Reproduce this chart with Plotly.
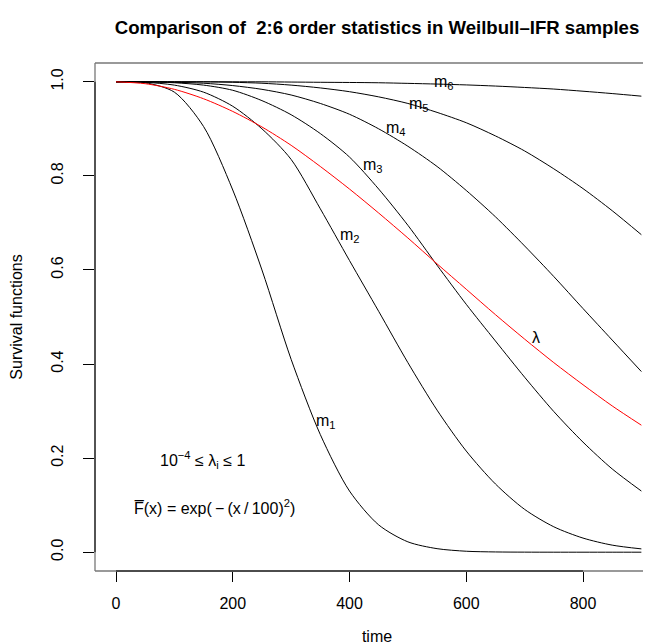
import plotly.graph_objects as go

# ---- data ----
time = [0, 50, 100, 150, 200, 250, 300, 350, 400, 450, 500, 550, 600, 650, 700, 750, 800, 850, 900]

m1 = [1.0, 0.998, 0.978, 0.905, 0.77, 0.60, 0.41, 0.25, 0.13, 0.058, 0.022, 0.0075, 0.002, 0.0005, 0.0001, 0.0, 0.0, 0.0, 0.0]
m2 = [1.0, 0.999, 0.993, 0.978, 0.948, 0.90, 0.835, 0.73, 0.62, 0.512, 0.403, 0.302, 0.215, 0.145, 0.091, 0.054, 0.030, 0.015, 0.007]
m3 = [1.0, 1.0, 0.998, 0.993, 0.982, 0.96, 0.93, 0.89, 0.84, 0.772, 0.695, 0.61, 0.527, 0.449, 0.372, 0.299, 0.234, 0.177, 0.130]
m4 = [1.0, 1.0, 0.999, 0.997, 0.992, 0.984, 0.972, 0.954, 0.931, 0.90, 0.863, 0.82, 0.769, 0.713, 0.651, 0.586, 0.518, 0.451, 0.384]
m5 = [1.0, 1.0, 1.0, 1.0, 0.999, 0.997, 0.993, 0.987, 0.979, 0.968, 0.954, 0.935, 0.913, 0.885, 0.853, 0.815, 0.773, 0.726, 0.675]
m6 = [1.0, 1.0, 1.0, 1.0, 1.0, 1.0, 0.9995, 0.999, 0.9986, 0.998, 0.9967, 0.9952, 0.9934, 0.991, 0.988, 0.9846, 0.980, 0.975, 0.9695]
lam = [1.0, 0.996, 0.984, 0.964, 0.937, 0.904, 0.865, 0.820, 0.772, 0.721, 0.668, 0.613, 0.559, 0.505, 0.453, 0.403, 0.356, 0.311, 0.270]

curve_labels = ["m<sub>1</sub>", "m<sub>2</sub>", "m<sub>3</sub>", "m<sub>4</sub>", "m<sub>5</sub>", "m<sub>6</sub>", "λ"]
label_x = [360, 400, 440, 480, 519, 562, 720]
label_y = [0.277, 0.673, 0.822, 0.900, 0.951, 0.999, 0.457]

x_ticks = [0, 200, 400, 600, 800]
y_ticks = [0.0, 0.2, 0.4, 0.6, 0.8, 1.0]
y_tick_text = ["0.0", "0.2", "0.4", "0.6", "0.8", "1.0"]

FONT = "Liberation Sans, Arial, Helvetica, sans-serif"

fig = go.Figure()
for vals in [m1, m2, m3, m4, m5, m6]:
    fig.add_trace(go.Scatter(x=time, y=vals, mode="lines",
                             line=dict(color="black", width=1, shape="spline", smoothing=0.8),
                             showlegend=False, hoverinfo="skip"))
fig.add_trace(go.Scatter(x=time, y=lam, mode="lines",
                         line=dict(color="#ff0000", width=1, shape="spline", smoothing=0.8),
                         showlegend=False, hoverinfo="skip"))

annotations = []
for t, xx, yy in zip(curve_labels, label_x, label_y):
    annotations.append(dict(x=xx, y=yy, xref="x", yref="y", text=t, showarrow=False,
                            font=dict(family=FONT, size=16, color="black"),
                            xanchor="center", yanchor="middle"))
annotations.append(dict(x=148.6, y=0.196, xref="x", yref="y",
                        text="10<sup>−4</sup> ≤ λ<sub>i</sub> ≤ 1", showarrow=False,
                        font=dict(family=FONT, size=16, color="black"),
                        xanchor="center", yanchor="middle"))
annotations.append(dict(x=168.7, y=0.0957, xref="x", yref="y",
                        text="F\u0305(x) = exp(\u2009−\u2009(x\u2009/\u2009100)<sup>2</sup>)", showarrow=False,
                        font=dict(family=FONT, size=16, color="black"),
                        xanchor="center", yanchor="middle"))

shapes = [
    # plot box (the right side falls outside the picture)
    dict(type="line", xref="paper", yref="paper", x0=0, x1=1, y0=1, y1=1, line=dict(color="#777", width=1.3)),
    dict(type="line", xref="paper", yref="paper", x0=0, x1=0, y0=0, y1=1, line=dict(color="#777", width=1.3)),
    dict(type="line", xref="paper", yref="paper", x0=0, x1=1, y0=0, y1=0, line=dict(color="#777", width=1.3)),
    # axis lines between first and last ticks
    dict(type="line", xref="x", yref="paper", x0=x_ticks[0], x1=x_ticks[-1], y0=0, y1=0, line=dict(color="black", width=1)),
    dict(type="line", xref="paper", yref="y", x0=0, x1=0, y0=y_ticks[0], y1=y_ticks[-1], line=dict(color="black", width=1)),
]

fig.update_layout(
    width=651, height=644,
    margin=dict(l=87, r=0, t=55, b=81, pad=0),
    paper_bgcolor="white", plot_bgcolor="white",
    font=dict(family=FONT, size=16, color="black"),
    title=dict(text="<b>Comparison of \u00a02:6 order statistics in Weilbull–IFR samples</b>",
               x=0.5, xref="paper", xanchor="center", y=1 - 19 / 644, yref="container",
               yanchor="middle", font=dict(family=FONT, size=18.6, color="black")),
    annotations=annotations,
    shapes=shapes,
    xaxis=dict(range=[-36, 930.2], tickvals=x_ticks, ticks="outside", ticklen=10, tickcolor="black",
               tickwidth=1, showgrid=False, zeroline=False, showline=False,
               tickfont=dict(family=FONT, size=16, color="black"), ticklabelstandoff=8,
               title=dict(text="time", font=dict(family=FONT, size=16, color="black"), standoff=19)),
    yaxis=dict(range=[-0.04, 1.04], tickvals=y_ticks, ticktext=y_tick_text, ticks="outside",
               ticklen=11, tickcolor="black", tickwidth=1, tickangle=-90,
               showgrid=False, zeroline=False, showline=False,
               tickfont=dict(family=FONT, size=16, color="black"), ticklabelstandoff=14,
               title=dict(text="Survival functions", font=dict(family=FONT, size=16, color="black"), standoff=22)),
)

fig.write_html("out.html")
